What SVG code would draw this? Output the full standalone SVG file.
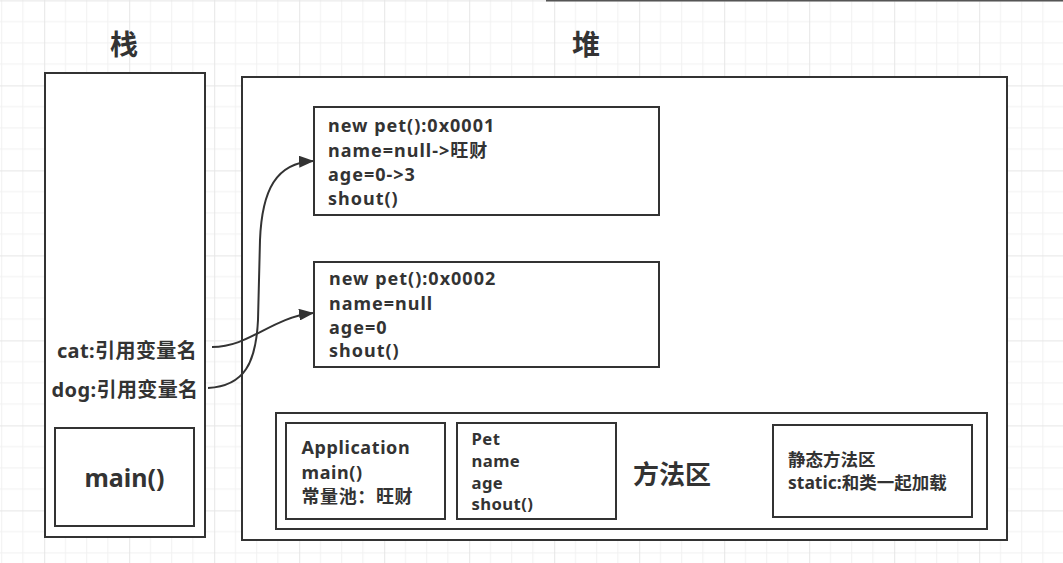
<svg xmlns="http://www.w3.org/2000/svg" width="1063" height="563" viewBox="0 0 1063 563">
  <defs>
    <pattern id="grid" x="44.2" y="0.4" width="85" height="85" patternUnits="userSpaceOnUse">
      <path d="M21.25,0V85M42.5,0V85M63.75,0V85M0,21.25H85M0,42.5H85M0,63.75H85" stroke="#f1f1f1" stroke-width="1" fill="none"/>
      <path d="M0.5,0V85M0,0.5H85" stroke="#e6e6e6" stroke-width="1" fill="none"/>
    </pattern>
    <marker id="arrow" markerUnits="userSpaceOnUse" markerWidth="15" markerHeight="12" refX="14" refY="6" orient="auto">
      <path d="M0,0 L15,6 L0,12 Z" fill="#333"/>
    </marker>
    <style>
      .box { fill: #fff; stroke: #333; stroke-width: 2; }
      .t { font-family: "Noto Sans", "Noto Sans CJK SC", sans-serif; font-weight: bold; fill: #333; }
      .title { font-size: 28px; text-anchor: middle; }
      .f18 { font-size: 18px; letter-spacing: 1px; }
      .f18b { font-size: 18px; letter-spacing: 0.6px; }
      .f17 { font-size: 16.7px; letter-spacing: 0.4px; }
      .lbl { font-size: 20px; text-anchor: middle; letter-spacing: 0.4px; }
      .big { font-size: 25px; text-anchor: middle; }
      .conn { fill: none; stroke: #333; stroke-width: 2; }
    </style>
  </defs>

  <rect x="0" y="0" width="1063" height="563" fill="#fff"/>
  <rect x="0" y="0" width="1063" height="563" fill="url(#grid)"/>
  <rect x="546" y="0" width="517" height="1.5" fill="#555"/>

  <text class="t title" x="124" y="55">栈</text>
  <text class="t title" x="586" y="55">堆</text>

  <g id="stack">
    <rect class="box" x="45" y="73" width="160" height="464"/>
    <text class="t lbl" x="127" y="358">cat:引用变量名</text>
    <text class="t lbl" x="125" y="397">dog:引用变量名</text>
  </g>

  <g id="main-frame">
    <rect class="box" x="55" y="428" width="139" height="98"/>
    <text class="t big" x="124.5" y="487">main()</text>
  </g>

  <g id="heap">
    <rect class="box" x="242" y="77" width="765" height="463"/>
  </g>

  <g id="pet1">
    <rect class="box" x="314" y="107" width="345" height="108"/>
    <text class="t f18" x="328" y="131.5">new pet():0x0001</text>
    <text class="t f18" x="328" y="156.5">name=null-&gt;旺财</text>
    <text class="t f18" x="328" y="181">age=0-&gt;3</text>
    <text class="t f18" x="328" y="205">shout()</text>
  </g>

  <g id="pet2">
    <rect class="box" x="314" y="262" width="345" height="105"/>
    <text class="t f18" x="329" y="284.5">new pet():0x0002</text>
    <text class="t f18" x="329" y="309.5">name=null</text>
    <text class="t f18" x="329" y="334">age=0</text>
    <text class="t f18" x="329" y="357">shout()</text>
  </g>

  <g id="method-area">
    <rect class="box" x="276" y="413" width="711" height="116"/>
    <text class="t" x="672" y="484" font-size="26" text-anchor="middle">方法区</text>
  </g>

  <g id="application-class">
    <rect class="box" x="286" y="423" width="159" height="96"/>
    <text class="t f18b" x="301.5" y="454">Application</text>
    <text class="t f18b" x="301.5" y="478.5">main()</text>
    <text class="t f18b" x="301.5" y="502.5">常量池：旺财</text>
  </g>

  <g id="pet-class">
    <rect class="box" x="457" y="423" width="159" height="96"/>
    <text class="t f17" x="471.5" y="444.5">Pet</text>
    <text class="t f17" x="471.5" y="466.5">name</text>
    <text class="t f17" x="471.5" y="488.5">age</text>
    <text class="t f17" x="471.5" y="510">shout()</text>
  </g>

  <g id="static-area">
    <rect class="box" x="773" y="425" width="199" height="92"/>
    <text class="t" x="788" y="466" font-size="17.5">静态方法区</text>
    <text class="t" x="788" y="489" font-size="17.5">static:和类一起加载</text>
  </g>

  <g id="connectors">
    <path class="conn" d="M212,347 C250,347 270,318 313,313" marker-end="url(#arrow)"/>
    <path class="conn" d="M208,388 C245,386 256,362 258,320 L260,240 C262,190 276,163 313,161" marker-end="url(#arrow)"/>
  </g>
</svg>
